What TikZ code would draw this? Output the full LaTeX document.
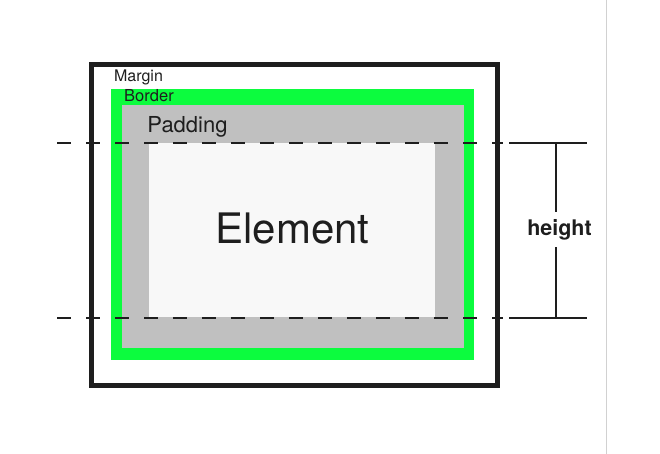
\documentclass[tikz,border=0pt]{standalone}
\usepackage{fontspec}
\setmainfont{TeX Gyre Heros}
\usetikzlibrary{positioning}
\definecolor{bordergreen}{RGB}{12,252,62}
\definecolor{paddinggray}{RGB}{192,192,192}
\definecolor{elementwhite}{RGB}{248,248,248}
\definecolor{ink}{RGB}{30,30,30}
\tikzset{
  guide/.style={ink, line width=1.1pt, dash pattern=on 14pt off 15pt},
  dimline/.style={ink, line width=1.1pt},
  boxlabel/.style={anchor=base, inner sep=0pt, text=ink},
}

\begin{document}
\begin{tikzpicture}[x=1pt,y=-1pt]
  \useasboundingbox (0,0) rectangle (660,454);
  \draw[black!18, line width=1pt] (606,0) -- (606,454);

  % Margin
  \draw[line width=4.5pt, ink] (91.5,64.5) rectangle (497.5,385.5);
  \node[boxlabel] (margin) at (138.5,82) {\fontsize{16}{18}\selectfont Margin};

  % Border
  \fill[bordergreen] (111,89) rectangle (474,360);
  \node[boxlabel] (border) at (149,102) {\fontsize{16.5}{18}\selectfont Border};

  % Padding
  \fill[paddinggray] (122,105) rectangle (464,348);
  \node[boxlabel] (padding) at (187.5,133) {\fontsize{22}{24}\selectfont Padding};

  % Element
  \fill[elementwhite] (149,143) rectangle (435,317);
  \node[boxlabel] (element) at (292.5,243) {\fontsize{42}{46}\selectfont Element};

  % height guides
  \coordinate (topl) at (57,143);
  \coordinate (topr) at (503,143);
  \coordinate (botl) at (57,318);
  \coordinate (botr) at (503,318);
  \draw[guide] (topl) -- (topr);
  \draw[guide] (botl) -- (botr);
  \coordinate (tickta) at (509,143);
  \coordinate (ticktb) at (587,143);
  \coordinate (tickba) at (509,318);
  \coordinate (tickbb) at (587,318);
  \draw[dimline] (tickta) -- (ticktb);
  \draw[dimline] (tickba) -- (tickbb);

  % dimension
  \coordinate (dimtop) at (556,143);
  \coordinate (dimbot) at (556,318);
  \node[anchor=base, text=ink, inner xsep=0pt, inner ysep=7pt] (height) at (559.5,235)
    {\fontsize{21.5}{24}\selectfont\bfseries height};
  \draw[dimline] (dimtop) -- (dimtop |- height.north);
  \draw[dimline] (dimbot) -- (dimbot |- height.south);
\end{tikzpicture}
\end{document}
